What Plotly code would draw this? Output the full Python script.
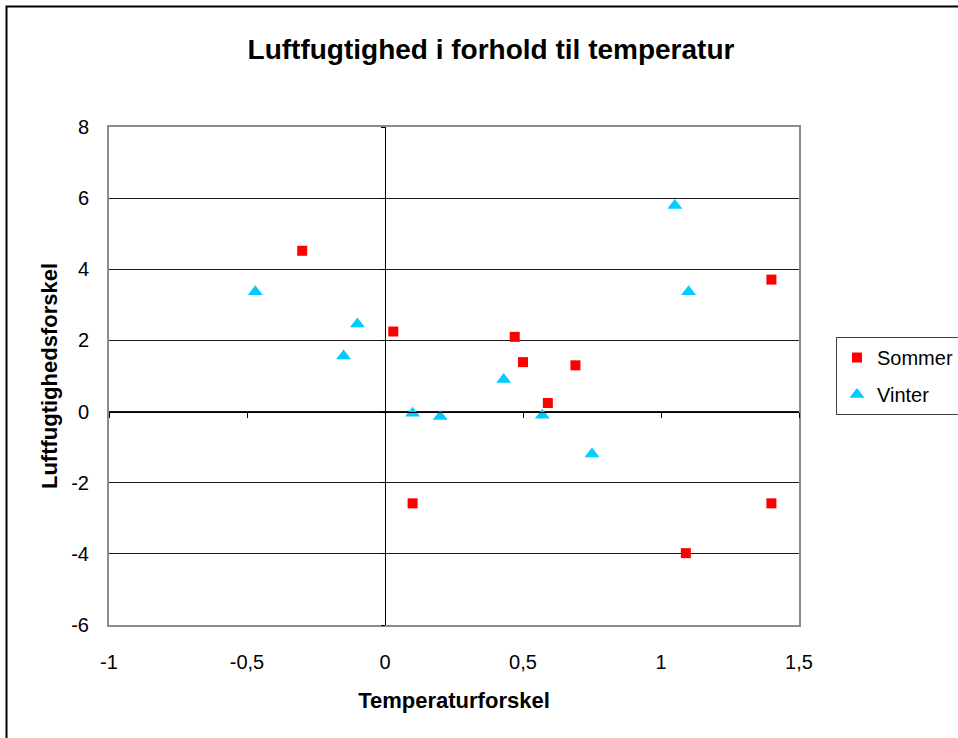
import plotly.graph_objects as go

# Data
sommer_x = [-0.30, 0.03, 0.47, 0.50, 0.69, 0.59, 1.40, 0.10, 1.09, 1.40]
sommer_y = [4.52, 2.25, 2.10, 1.39, 1.30, 0.24, 3.71, -2.58, -3.98, -2.58]
vinter_x = [-0.47, -0.10, -0.15, 1.05, 1.10, 0.43, 0.10, 0.20, 0.57, 0.75]
vinter_y = [3.37, 2.46, 1.56, 5.79, 3.37, 0.90, -0.05, -0.14, -0.10, -1.19]

x_ticks = [-1, -0.5, 0, 0.5, 1, 1.5]
x_ticktext = ["-1", "-0,5", "0", "0,5", "1", "1,5"]
y_ticks = [-6, -4, -2, 0, 2, 4, 6, 8]
y_ticktext = ["-6", "-4", "-2", "0", "2", "4", "6", "8"]

title_text = "Luftfugtighed i forhold til temperatur"
x_title = "Temperaturforskel"
y_title = "Luftfugtighedsforskel"

X_RANGE = [-1, 1.5]
Y_RANGE = [-6, 8]

W, H = 958, 738
ML, MR, MT, MB = 109, 159, 127, 113
PW = W - ML - MR
PH = H - MT - MB

FONT = "Liberation Sans, Arial, sans-serif"

fig = go.Figure()
fig.add_trace(go.Scatter(
    x=sommer_x, y=sommer_y, mode="markers", name="Sommer",
    legendgroup="s",
    marker=dict(symbol="square", size=10, color="#FF0000"),
    xaxis="x", yaxis="y",
))
fig.add_trace(go.Scatter(
    x=vinter_x, y=vinter_y, mode="markers", name="Vinter",
    legendgroup="v",
    marker=dict(symbol="triangle-up", size=13, color="#00CCFF"),
    xaxis="x2", yaxis="y2",
))

fig.update_layout(
    width=W, height=H,
    margin=dict(l=ML, r=MR, t=MT, b=MB, autoexpand=False),
    paper_bgcolor="white", plot_bgcolor="white",
    font=dict(family=FONT, color="black", size=20),
    title=dict(text="<b>" + title_text + "</b>", x=491 / W, xref="container",
               xanchor="center", y=1 - 49 / H, yref="container", yanchor="middle",
               font=dict(size=28, family=FONT, color="black")),
    showlegend=True,
    legend=dict(x=(836 - ML) / PW, xanchor="left", y=(MT + PH - 337) / PH, yanchor="top",
                bordercolor="#404040", borderwidth=1, bgcolor="white",
                font=dict(size=20, family=FONT), tracegroupgap=8,
                itemwidth=30, traceorder="grouped"),
    xaxis=dict(range=X_RANGE, tickvals=x_ticks, ticktext=x_ticktext,
               showgrid=False, zeroline=False, ticks="", ticklabelstandoff=18,
               showline=True, mirror=True, linecolor="#8C8C8C", linewidth=2,
               tickfont=dict(size=20),
               title=dict(text="<b>" + x_title + "</b>", standoff=21,
                          font=dict(size=22))),
    yaxis=dict(range=Y_RANGE, tickvals=y_ticks, ticktext=y_ticktext,
               showgrid=True, gridcolor="#1a1a1a", gridwidth=1,
               zeroline=False, ticks="", ticklabelstandoff=14,
               showline=True, mirror=True, linecolor="#8C8C8C", linewidth=2,
               tickfont=dict(size=20),
               title=dict(text="<b>" + y_title + "</b>", standoff=8,
                          font=dict(size=22))),
    xaxis2=dict(range=X_RANGE, overlaying="x", anchor="free",
                position=(0 - Y_RANGE[0]) / (Y_RANGE[1] - Y_RANGE[0]),
                tickvals=x_ticks, showticklabels=False, ticks="outside",
                ticklen=5, tickcolor="black", tickwidth=1,
                showline=True, linecolor="black", linewidth=1,
                showgrid=False, zeroline=False),
    yaxis2=dict(range=Y_RANGE, overlaying="y", anchor="free",
                position=(0 - X_RANGE[0]) / (X_RANGE[1] - X_RANGE[0]),
                tickvals=y_ticks, showticklabels=False, ticks="outside",
                ticklen=4, tickcolor="black", tickwidth=1,
                showline=True, linecolor="black", linewidth=1,
                showgrid=False, zeroline=False),
    shapes=[dict(type="rect", xref="paper", yref="paper",
                 x0=(6.5 - ML) / PW, x1=(W + 10 - ML) / PW,
                 y0=(MT + PH - (H + 10)) / PH, y1=(MT + PH - 6.5) / PH,
                 line=dict(color="black", width=2), fillcolor="rgba(0,0,0,0)",
                 layer="below")],
)

fig.write_html("out.html",
               config={"displayModeBar": False},
               post_script="document.body.style.margin='0';document.body.style.overflow='hidden';")
